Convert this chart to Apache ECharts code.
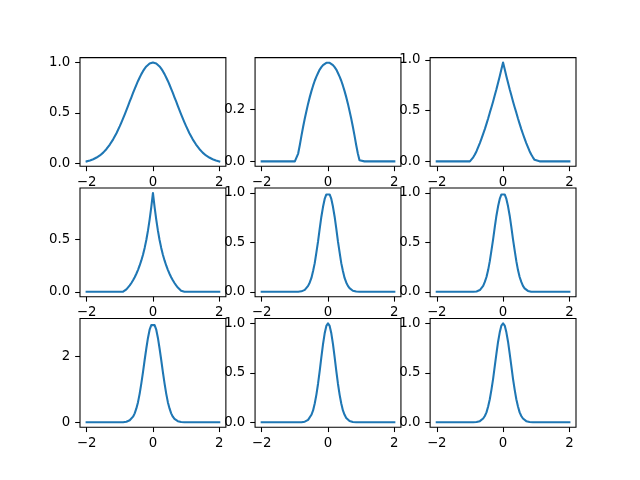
<!DOCTYPE html>
<html><head><meta charset="utf-8">
<script src="https://cdn.jsdelivr.net/npm/echarts@6/dist/echarts.min.js"></script>
<style>html,body{margin:0;padding:0;background:#fff}#c{width:640px;height:480px}</style>
</head><body><div id="c"></div><script>
const xs = [-2.0,-1.9,-1.8,-1.7,-1.6,-1.5,-1.4,-1.3,-1.2,-1.1,
  -1.0,-0.95,-0.9,-0.85,-0.8,-0.75,-0.7,-0.65,-0.6,-0.55,-0.5,-0.45,-0.4,-0.35,-0.3,-0.25,-0.2,-0.15,-0.1,-0.05,
  0,
  0.05,0.1,0.15,0.2,0.25,0.3,0.35,0.4,0.45,0.5,0.55,0.6,0.65,0.7,0.75,0.8,0.85,0.9,0.95,1.0,
  1.1,1.2,1.3,1.4,1.5,1.6,1.7,1.8,1.9,2.0];

const kernel1 = [0.018,0.027,0.039,0.056,0.077,0.105,0.141,0.185,0.237,0.298,
  0.368,0.406,0.445,0.486,0.527,0.570,0.613,0.655,0.698,0.739,0.779,0.817,0.852,0.885,0.914,0.939,0.961,0.978,0.990,0.998,
  1.0,
  0.998,0.990,0.978,0.961,0.939,0.914,0.885,0.852,0.817,0.779,0.739,0.698,0.655,0.613,0.570,0.527,0.486,0.445,0.406,0.368,
  0.298,0.237,0.185,0.141,0.105,0.077,0.056,0.039,0.027,0.018];
const kernel2 = [0,0,0,0,0,0,0,0,0,0,
  0,0.004,0.030,0.063,0.099,0.133,0.165,0.194,0.222,0.247,0.270,0.291,0.310,0.326,0.340,0.353,0.362,0.370,0.376,0.379,
  0.380,
  0.379,0.376,0.370,0.362,0.353,0.340,0.326,0.310,0.291,0.270,0.247,0.222,0.194,0.165,0.133,0.099,0.063,0.030,0.004,0,
  0,0,0,0,0,0,0,0,0,0];
const kernel3 = [0,0,0,0,0,0,0,0,0,0,
  0,0.015,0.04,0.068,0.10,0.14,0.18,0.224,0.27,0.318,0.37,0.422,0.48,0.533,0.59,0.651,0.71,0.775,0.84,0.907,
  0.974,
  0.907,0.84,0.775,0.71,0.651,0.59,0.533,0.48,0.422,0.37,0.318,0.27,0.224,0.18,0.14,0.10,0.068,0.04,0.015,0,
  0,0,0,0,0,0,0,0,0,0];
const kernel4 = [0,0,0,0,0,0,0,0,0,0,
  0,0,0.002,0.01,0.024,0.041,0.061,0.084,0.11,0.14,0.173,0.21,0.252,0.30,0.355,0.42,0.495,0.585,0.69,0.81,
  0.945,
  0.81,0.69,0.585,0.495,0.42,0.355,0.30,0.252,0.21,0.173,0.14,0.11,0.084,0.061,0.041,0.024,0.01,0.002,0,0,
  0,0,0,0,0,0,0,0,0,0];
const kernel5 = [0,0,0,0,0,0,0,0,0,0,
  0,0,0.001,0.003,0.005,0.011,0.02,0.037,0.06,0.095,0.14,0.21,0.29,0.40,0.51,0.64,0.76,0.86,0.94,0.985,
  1.0,
  0.985,0.94,0.86,0.76,0.64,0.51,0.40,0.29,0.21,0.14,0.095,0.06,0.037,0.02,0.011,0.005,0.003,0.001,0,0,
  0,0,0,0,0,0,0,0,0,0];
const kernel6 = [0,0,0,0,0,0,0,0,0,0,
  0,0,0,0.001,0.004,0.009,0.018,0.035,0.06,0.10,0.15,0.22,0.31,0.42,0.53,0.655,0.77,0.865,0.94,0.985,
  1.0,
  0.985,0.94,0.865,0.77,0.655,0.53,0.42,0.31,0.22,0.15,0.10,0.06,0.035,0.018,0.009,0.004,0.001,0,0,0,
  0,0,0,0,0,0,0,0,0,0];
const kernel7 = [0,0,0,0,0,0,0,0,0,0,
  0,0.001,0.003,0.007,0.015,0.032,0.06,0.10,0.17,0.27,0.42,0.61,0.87,1.18,1.52,1.89,2.24,2.56,2.81,2.95,
  3.0,
  2.95,2.81,2.56,2.24,1.89,1.52,1.18,0.87,0.61,0.42,0.27,0.17,0.10,0.06,0.032,0.015,0.007,0.003,0.001,0,
  0,0,0,0,0,0,0,0,0,0];
const kernel8 = [0,0,0,0,0,0,0,0,0,0,
  0,0,0,0,0.001,0.003,0.006,0.013,0.024,0.044,0.076,0.12,0.19,0.28,0.39,0.52,0.66,0.79,0.90,0.975,
  1.0,
  0.975,0.90,0.79,0.66,0.52,0.39,0.28,0.19,0.12,0.076,0.044,0.024,0.013,0.006,0.003,0.001,0,0,0,0,
  0,0,0,0,0,0,0,0,0,0];
const kernel9 = [0,0,0,0,0,0,0,0,0,0,
  0,0,0,0.001,0.003,0.006,0.011,0.021,0.038,0.064,0.10,0.16,0.233,0.33,0.44,0.567,0.695,0.815,0.91,0.978,
  1.0,
  0.978,0.91,0.815,0.695,0.567,0.44,0.33,0.233,0.16,0.10,0.064,0.038,0.021,0.011,0.006,0.003,0.001,0,0,0,
  0,0,0,0,0,0,0,0,0,0];

const xTicks = [-2, 0, 2];
const xTickLabels = ['\u22122', '0', '2'];
const yTicks = [[0,0.5,1.0],[0,0.2],[0,0.5,1.0],[0,0.5],[0,0.5,1.0],[0,0.5,1.0],[0,2],[0,0.5,1.0],[0,0.5,1.0]];
const yTickLabels = [['0.0','0.5','1.0'],['0.0','0.2'],['0.0','0.5','1.0'],['0.0','0.5'],['0.0','0.5','1.0'],['0.0','0.5','1.0'],['0','2'],['0.0','0.5','1.0'],['0.0','0.5','1.0']];

const kernels = [kernel1,kernel2,kernel3,kernel4,kernel5,kernel6,kernel7,kernel8,kernel9];

const FONT = 'DejaVu Sans';
const FS = 13.33;
const L0 = 80, T0 = 57.6, W = 145.88, H = 108.71, GX = 29.18, GY = 21.74;
const TICK = 4.86, PAD = 4.86;

const grids = [], xAxes = [], yAxes = [], series = [];
kernels.forEach((ys, i) => {
  const r = Math.floor(i / 3), c = i % 3;
  const mn = Math.min(...ys), mx = Math.max(...ys);
  const rng = mx - mn;
  grids.push({
    left: L0 + c * (W + GX), top: T0 + r * (H + GY), width: W, height: H,
    show: true, backgroundColor: '#fff', borderColor: '#000', borderWidth: 1.07, z: 10 * i
  });
  const lblX = (v) => { const k = xTicks.findIndex(t => Math.abs(t - v) < 1e-9); return k >= 0 ? xTickLabels[k] : ''; };
  const lblY = (v) => { const k = yTicks[i].findIndex(t => Math.abs(t - v) < 1e-9); return k >= 0 ? yTickLabels[i][k] : ''; };
  xAxes.push({
    type: 'value', gridIndex: i, min: -2.2, max: 2.2, z: 10 * i + 1, position: 'bottom',
    axisLine: { show: false, onZero: false }, splitLine: { show: false },
    axisTick: { show: true, length: TICK, customValues: xTicks, lineStyle: { color: '#000', width: 1.07 } },
    axisLabel: { customValues: xTicks, formatter: lblX, margin: TICK + PAD, color: '#000', fontFamily: FONT, fontSize: FS, showMinLabel: true, showMaxLabel: true }
  });
  yAxes.push({
    type: 'value', gridIndex: i, min: mn - 0.05 * rng, max: mx + 0.05 * rng, z: 10 * i + 1, position: 'left',
    axisLine: { show: false, onZero: false }, splitLine: { show: false },
    axisTick: { show: true, length: TICK, customValues: yTicks[i], lineStyle: { color: '#000', width: 1.07 } },
    axisLabel: { customValues: yTicks[i], formatter: lblY, margin: TICK + PAD, color: '#000', fontFamily: FONT, fontSize: FS, showMinLabel: true, showMaxLabel: true }
  });
  series.push({
    type: 'line', xAxisIndex: i, yAxisIndex: i, z: 10 * i + 2,
    data: xs.map((x, k) => [x, ys[k]]),
    showSymbol: false, symbol: 'none', smooth: false,
    lineStyle: { color: '#1f77b4', width: 2.08, join: 'round', cap: 'square' }
  });
});

const chart = echarts.init(document.getElementById('c'), null, { renderer: 'canvas' });
chart.setOption({ animation: false, backgroundColor: '#fff', grid: grids, xAxis: xAxes, yAxis: yAxes, series: series });
</script></body></html>
